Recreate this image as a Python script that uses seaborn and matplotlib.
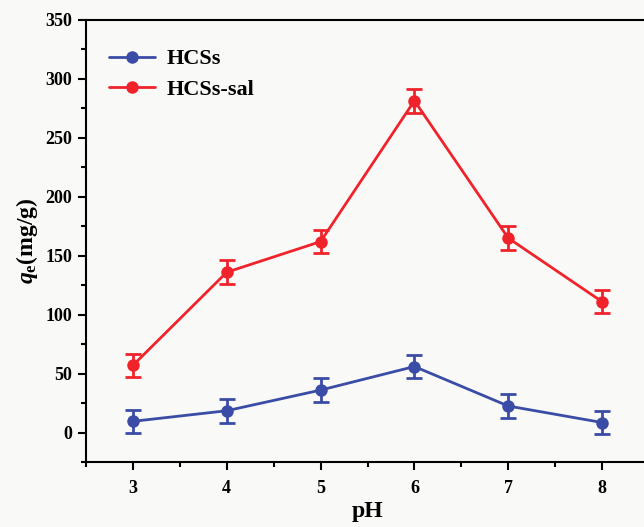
import numpy as np
import pandas as pd
import matplotlib
matplotlib.use("Agg")
import matplotlib.pyplot as plt
import seaborn as sns
from matplotlib.ticker import MultipleLocator

ph = [3, 4, 5, 6, 7, 8]
hcss = [9.5, 18.5, 36, 56, 22.5, 8.5]
hcss_sal = [57, 136, 162, 281.5, 165, 111]
err_hcss = [10, 10, 10, 10, 10, 10]
err_sal = [10, 10, 10, 10, 10, 10]
series_names = ["HCSs", "HCSs-sal"]
colors = ["#3b4ca6", "#f0232b"]

sns.set_style("ticks")
plt.rcParams['font.family'] = ['Liberation Serif', 'DejaVu Serif']
plt.rcParams['font.weight'] = 'bold'
plt.rcParams['text.color'] = 'black'
plt.rcParams['axes.labelcolor'] = 'black'
plt.rcParams['xtick.color'] = 'black'
plt.rcParams['ytick.color'] = 'black'
plt.rcParams['mathtext.fontset'] = 'custom'
plt.rcParams['mathtext.it'] = 'Liberation Serif:italic:bold'
plt.rcParams['mathtext.rm'] = 'Liberation Serif:bold'
plt.rcParams['mathtext.bf'] = 'Liberation Serif:bold'

df = pd.DataFrame({
    "pH": ph * 2,
    "q": hcss + hcss_sal,
    "err": err_hcss + err_sal,
    "series": [series_names[0]] * len(ph) + [series_names[1]] * len(ph),
})

W, H = 644, 527
fig = plt.figure(figsize=(W / 100, H / 100), dpi=100)
bg = "#f9f9f7"
fig.patch.set_facecolor(bg)
ax = fig.add_axes([86 / W, (H - 462) / H, (649 - 86) / W, (462 - 20) / H])
ax.set_facecolor(bg)

for name, c in zip(series_names, colors):
    sub = df[df.series == name]
    ax.errorbar(sub["pH"], sub["q"], yerr=sub["err"], fmt="none", ecolor=c,
                elinewidth=2, capsize=6, capthick=2, zorder=2)

sns.lineplot(data=df, x="pH", y="q", hue="series", palette=colors,
             marker="o", markersize=9, markeredgewidth=0, linewidth=2,
             ax=ax, zorder=3, legend=True)

ax.set_xlim(2.5, 8.5)
ax.set_ylim(-25, 350)
ax.xaxis.set_major_locator(MultipleLocator(1))
ax.xaxis.set_minor_locator(MultipleLocator(0.5))
ax.yaxis.set_major_locator(MultipleLocator(50))
ax.yaxis.set_minor_locator(MultipleLocator(25))
ax.tick_params(which="major", direction="out", length=6, width=1.5, labelsize=13, pad=7,
               colors="black")
ax.tick_params(which="minor", direction="out", length=3.5, width=1.5, colors="black")
ax.tick_params(axis="y", pad=4)
for lab in ax.get_xticklabels() + ax.get_yticklabels():
    lab.set_fontweight("bold")
for s in ax.spines.values():
    s.set_linewidth(1.5)
    s.set_color("black")

ax.set_xlabel("pH", fontsize=17, fontweight="bold", labelpad=3, color="black")
ax.set_ylabel(r"$q_\mathrm{e}$(mg/g)", fontsize=17, fontweight="bold", labelpad=4,
              color="black")

leg = ax.legend(loc="upper left", bbox_to_anchor=(0.005, 0.98), frameon=False,
                prop={"size": 16, "weight": "bold"}, handlelength=2.1,
                handletextpad=0.5, labelspacing=0.45, labelcolor="black")

fig.savefig("out.png", dpi=100, facecolor=bg)
